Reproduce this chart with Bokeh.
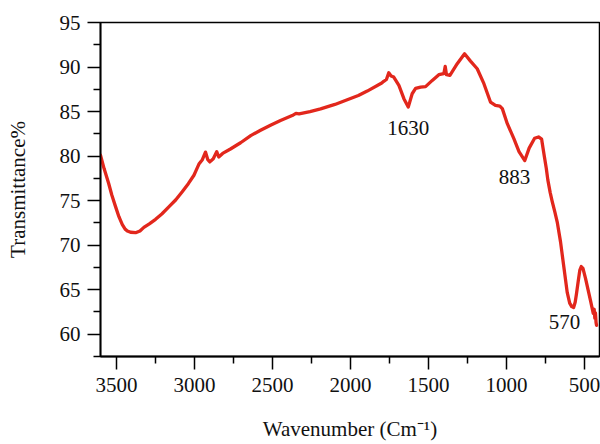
from bokeh.plotting import figure
from bokeh.models import Range1d, FixedTicker, Label
from bokeh.embed import file_html
from bokeh.resources import INLINE

# FTIR spectrum: wavenumber (cm^-1) vs transmittance (%)
wavenumber = [3603, 3580, 3551, 3530, 3506, 3485, 3463, 3445, 3431, 3410,
              3378, 3350, 3325, 3290, 3250, 3210, 3165, 3120, 3079, 3040,
              3004, 2990, 2972, 2950, 2930, 2915, 2902, 2880, 2858, 2845,
              2820, 2770, 2705, 2640, 2577, 2510, 2449, 2374, 2350, 2330,
              2260, 2192, 2100, 2021, 1950, 1893, 1800, 1787, 1770, 1755,
              1740, 1723, 1690, 1658, 1630, 1605, 1583, 1551, 1519, 1476,
              1434, 1402, 1393, 1385, 1363, 1316, 1269, 1231, 1188, 1145,
              1103, 1071, 1043, 1027, 995, 953, 920, 883, 855, 820,
              795, 775, 757, 745, 735, 720, 707, 690, 675, 654,
              633, 611, 595, 582, 570, 560, 552, 540, 530, 521,
              510, 494, 462, 444, 438, 434, 430, 426, 423]
transmittance = [80.1, 78.6, 76.95, 75.6, 74.3, 73.2, 72.3, 71.8, 71.6, 71.45,
                 71.4, 71.6, 72.0, 72.4, 72.9, 73.5, 74.3, 75.1, 76.0, 76.9,
                 77.85, 78.4, 79.1, 79.6, 80.45, 79.6, 79.35, 79.7, 80.5, 79.9,
                 80.3, 80.8, 81.5, 82.3, 82.9, 83.5, 84.0, 84.55, 84.8, 84.75,
                 85.0, 85.3, 85.8, 86.33, 86.8, 87.3, 88.2, 88.4, 88.6, 89.36,
                 89.0, 88.87, 87.94, 86.45, 85.5, 87.0, 87.6, 87.75, 87.8, 88.5,
                 89.14, 89.25, 90.07, 89.14, 89.06, 90.37, 91.49, 90.66, 89.81, 88.13,
                 86.07, 85.7, 85.62, 85.33, 83.64, 81.96, 80.5, 79.5, 80.9, 82.0,
                 82.15, 81.9, 79.9, 78.6, 77.3, 75.9, 74.9, 73.7, 72.6, 70.4,
                 67.6, 64.7, 63.5, 63.1, 63.0, 63.6, 64.5, 66.0, 67.2, 67.6,
                 67.4, 66.3, 63.8, 62.34, 62.8, 61.8, 62.4, 61.3, 61.0]

# Marked absorption bands: label text and where it sits
peak_labels = ["1630", "883", "570"]
peak_label_x = [1630, 949, 628]
peak_label_y = [83.1, 77.6, 61.4]

x_ticks = [3500, 3000, 2500, 2000, 1500, 1000, 500]
x_minor = [3250, 2750, 2250, 1750, 1250, 750]
y_ticks = [60, 65, 70, 75, 80, 85, 90, 95]
y_minor = [57.5, 62.5, 67.5, 72.5, 77.5, 82.5, 87.5, 92.5]

FONT = "Liberation Serif"
FS = "21px"

p = figure(width=600, height=444, frame_width=499, frame_height=334,
           output_backend="svg", toolbar_location=None,
           x_range=Range1d(3603, 404), y_range=Range1d(57.5, 95),
           min_border_left=100, min_border_right=1,
           min_border_top=22, min_border_bottom=88)

p.line(wavenumber, transmittance, line_color="#e2271c", line_width=3.3,
       line_join="round", line_cap="round")

for txt, lx, ly in zip(peak_labels, peak_label_x, peak_label_y):
    p.add_layout(Label(x=lx, y=ly, text=txt, text_align="center",
                       text_baseline="middle", text_font=FONT,
                       text_font_size=FS, text_color="#111111"))

p.xgrid.visible = False
p.ygrid.visible = False
p.outline_line_color = "black"
p.outline_line_width = 1.5
p.background_fill_color = "white"
p.border_fill_color = "white"

p.xaxis.ticker = FixedTicker(ticks=x_ticks, minor_ticks=x_minor)
p.yaxis.ticker = FixedTicker(ticks=y_ticks, minor_ticks=y_minor)
p.xaxis.axis_label = "Wavenumber (Cm\u207b\u00b9)"
p.yaxis.axis_label = "Transmittance%"

for ax in (p.xaxis, p.yaxis):
    ax.axis_line_color = "black"
    ax.axis_line_width = 1.8
    ax.major_tick_line_color = "black"
    ax.minor_tick_line_color = "black"
    ax.major_tick_line_width = 1.5
    ax.minor_tick_line_width = 1.5
    ax.major_tick_in = 0
    ax.major_tick_out = 13
    ax.minor_tick_in = 0
    ax.minor_tick_out = 7
    ax.major_label_text_font = FONT
    ax.major_label_text_font_size = FS
    ax.major_label_text_color = "#111111"
    ax.axis_label_text_font = FONT
    ax.axis_label_text_font_size = FS
    ax.axis_label_text_font_style = "normal"
    ax.axis_label_text_color = "#111111"

p.yaxis.major_label_standoff = 7
p.yaxis.axis_label_standoff = 27
p.xaxis.major_label_standoff = 8
p.xaxis.axis_label_standoff = 22

open("out.html", "w").write(file_html(p, INLINE))
